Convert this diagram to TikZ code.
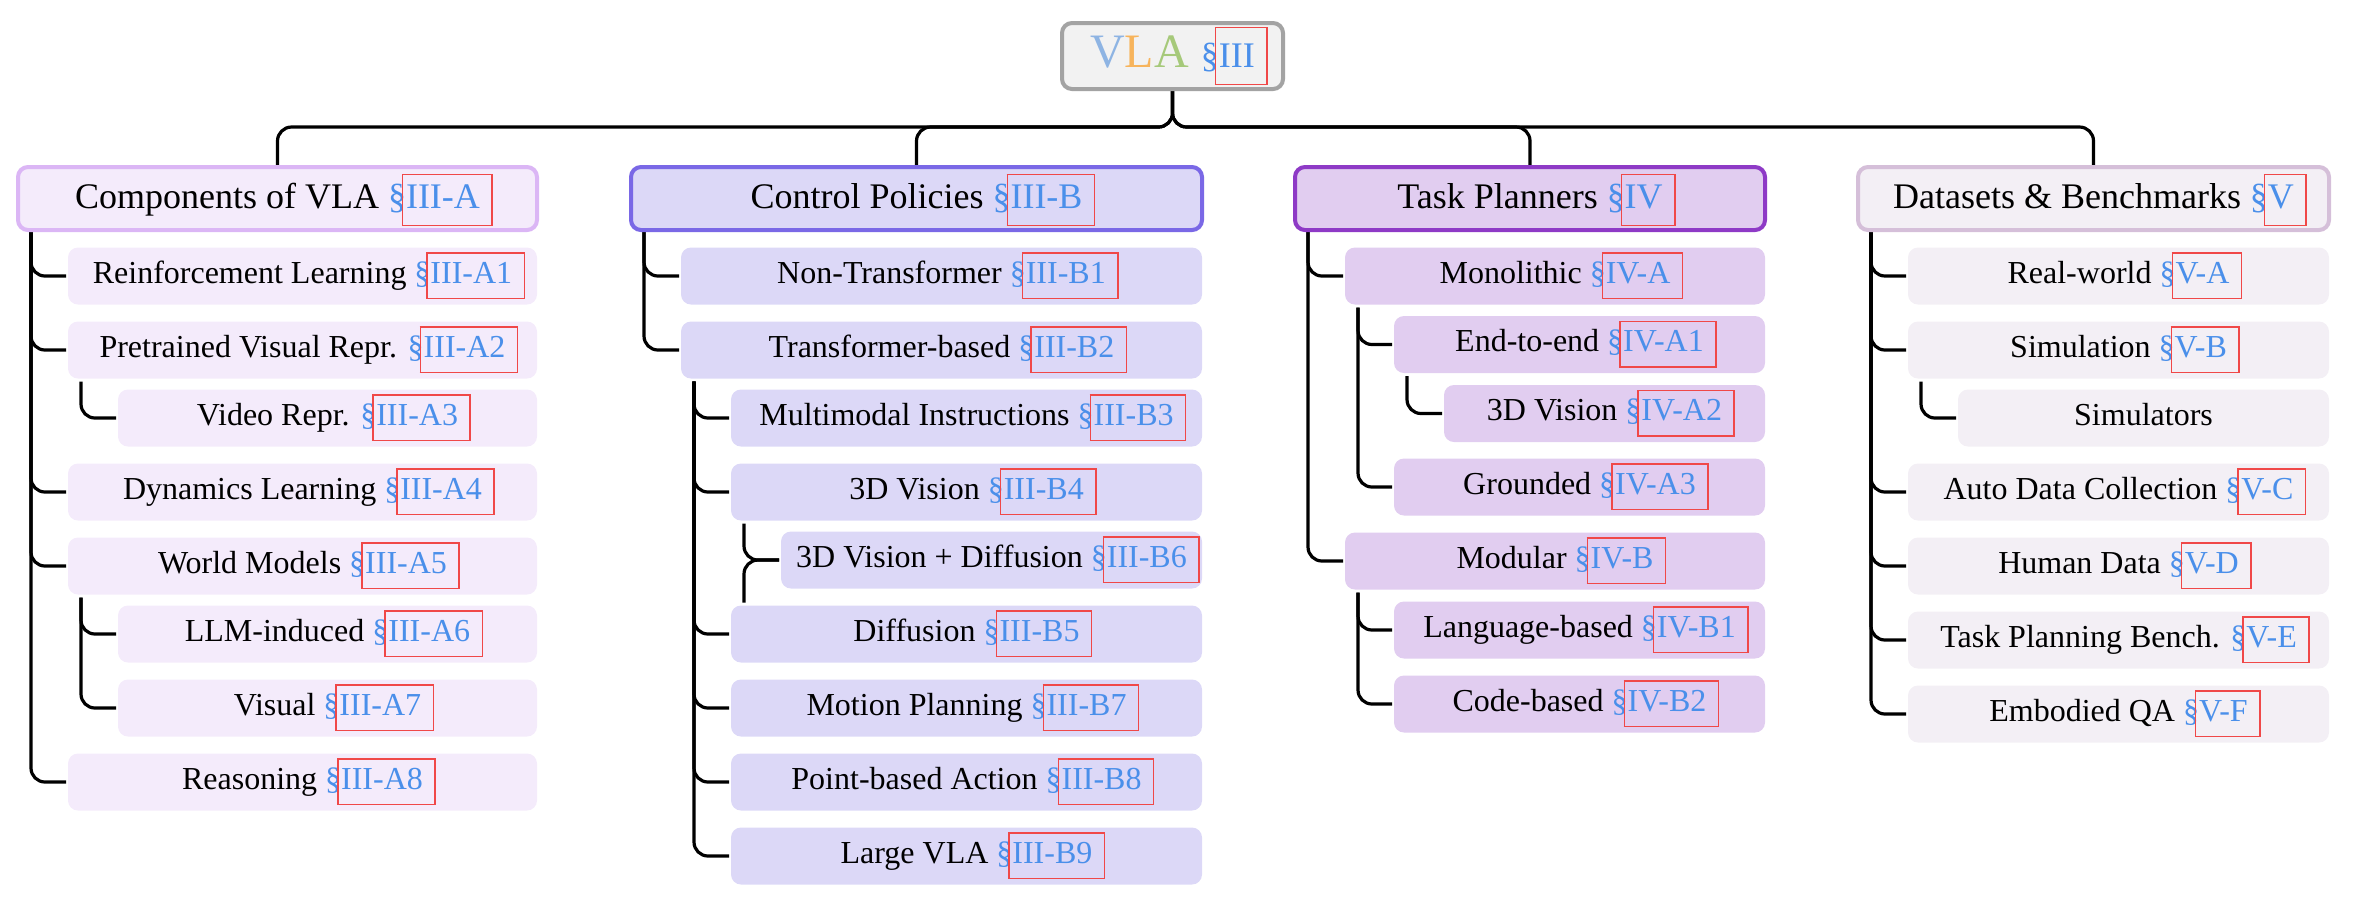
\documentclass[tikz,border=0pt]{standalone}
\usepackage{fontspec}
\setmainfont{Liberation Serif}
\newfontfamily\tnr{Liberation Serif}
\usetikzlibrary{backgrounds}
\definecolor{linkblue}{HTML}{4A8FEA}
\definecolor{linkred}{HTML}{F04848}
\definecolor{rootf}{HTML}{F2F2F2}
\definecolor{rootd}{HTML}{A3A3A3}
\definecolor{vV}{HTML}{8EB4E3}
\definecolor{vL}{HTML}{F7B45C}
\definecolor{vA}{HTML}{A6C97A}
\definecolor{cAf}{HTML}{F4EBFB}
\definecolor{cAd}{HTML}{DBB6F5}
\definecolor{cBf}{HTML}{DCD8F7}
\definecolor{cBd}{HTML}{7A68E6}
\definecolor{cCf}{HTML}{E1CDF0}
\definecolor{cCd}{HTML}{8E3AC6}
\definecolor{cDf}{HTML}{F3EFF5}
\definecolor{cDd}{HTML}{D5BFD9}
\newsavebox\myrefbox
\newcommand\secrefgen[3]{{\color{linkblue}\S}\sbox\myrefbox{\color{linkblue}#3}%
\rlap{\hskip-1pt\color{linkred}\setlength\fboxsep{0pt}\setlength\fboxrule{0.35pt}%
\raisebox{-#1}{\fbox{\rule{0pt}{#2}\rule{\dimexpr\wd\myrefbox+3.5pt\relax}{0pt}}}}%
\usebox\myrefbox}
\newcommand\secref[1]{\secrefgen{0.46em}{1.38em}{#1}}
\tikzset{
 conn/.style={draw=black, line width=0.8pt, rounded corners=3.5pt, shorten >=0.5pt},
 rootbox/.style={draw=rootd, fill=rootf, line width=1pt, rounded corners=2.5pt,
   minimum width=55.25pt, minimum height=16.5pt, inner sep=0pt, outer sep=0pt,
   font=\tnr\fontsize{12}{14}\selectfont, text height=8pt, text depth=2.5pt},
 lone/.style={line width=1pt, rounded corners=2.5pt, minimum height=15.75pt,
   inner sep=0pt, outer sep=0pt, anchor=west, font=\tnr\fontsize{9}{10}\selectfont,
   text height=7pt, text depth=2.1pt},
 ltwo/.style={rounded corners=2.5pt, minimum height=14.25pt, inner sep=0pt,
   outer sep=0pt, anchor=west, font=\tnr\fontsize{8}{9}\selectfont,
   text height=6pt, text depth=2.4pt},
 cA/.style={ltwo, fill=cAf}, cB/.style={ltwo, fill=cBf},
 cC/.style={ltwo, fill=cCf}, cD/.style={ltwo, fill=cDf},
}
\begin{document}
\begin{tikzpicture}[x=0.25pt,y=-0.25pt]
\useasboundingbox (0,0) rectangle (2354,914);
\node[rootbox] (root) at (1172.5,56) {\textcolor{vV}{V}\textcolor{vL}{L}\textcolor{vA}{A} {\fontsize{9}{10}\selectfont\secrefgen{4.25pt}{14pt}{III}}};
\coordinate (bus) at (1172.5,127);
% level 1
\node[lone, draw=cAd, fill=cAf, minimum width=129.75pt] (A) at (18,198.5) {Components of VLA \secref{III-A}};
\node[lone, draw=cBd, fill=cBf, minimum width=142.75pt] (B) at (631,198.5) {Control Policies \secref{III-B}};
\node[lone, draw=cCd, fill=cCf, minimum width=117.5pt] (C) at (1295,198.5) {Task Planners \secref{IV}};
\node[lone, draw=cDd, fill=cDf, minimum width=117.75pt] (D) at (1858,198.5) {Datasets \& Benchmarks \secref{V}};
% column A
\node[cA, minimum width=117.25pt] (A1) at (68,276) {Reinforcement Learning \secref{III-A1}};
\node[cA, minimum width=117.25pt] (A2) at (68,350) {Pretrained Visual Repr. \secref{III-A2}};
\node[cA, minimum width=104.75pt] (A3) at (118,418) {Video Repr. \secref{III-A3}};
\node[cA, minimum width=117.25pt] (A4) at (68,492) {Dynamics Learning \secref{III-A4}};
\node[cA, minimum width=117.25pt] (A5) at (68,566) {World Models \secref{III-A5}};
\node[cA, minimum width=104.75pt] (A6) at (118,634) {LLM-induced \secref{III-A6}};
\node[cA, minimum width=104.75pt] (A7) at (118,708) {Visual \secref{III-A7}};
\node[cA, minimum width=117.25pt] (A8) at (68,782) {Reasoning \secref{III-A8}};
% column B
\node[cB, minimum width=130.25pt] (B1) at (681,276) {Non-Transformer \secref{III-B1}};
\node[cB, minimum width=130.25pt] (B2) at (681,350) {Transformer-based \secref{III-B2}};
\node[cB, minimum width=117.75pt] (B3) at (731,418) {Multimodal Instructions \secref{III-B3}};
\node[cB, minimum width=117.75pt] (B4) at (731,492) {3D Vision \secref{III-B4}};
\node[cB, minimum width=105.25pt] (B6) at (781,560) {3D Vision + Diffusion \secref{III-B6}};
\node[cB, minimum width=117.75pt] (B5) at (731,634) {Diffusion \secref{III-B5}};
\node[cB, minimum width=117.75pt] (B7) at (731,708) {Motion Planning \secref{III-B7}};
\node[cB, minimum width=117.75pt] (B8) at (731,782) {Point-based Action \secref{III-B8}};
\node[cB, minimum width=117.75pt] (B9) at (731,856) {Large VLA \secref{III-B9}};
% column C
\node[cC, minimum width=105pt] (C1) at (1345,276) {Monolithic \secref{IV-A}};
\node[cC, minimum width=92.75pt] (C2) at (1394,344.5) {End-to-end \secref{IV-A1}};
\node[cC, minimum width=80.25pt] (C3) at (1444,413.5) {3D Vision \secref{IV-A2}};
\node[cC, minimum width=92.75pt] (C4) at (1394,487) {Grounded \secref{IV-A3}};
\node[cC, minimum width=105pt] (C5) at (1345,561) {Modular \secref{IV-B}};
\node[cC, minimum width=92.75pt] (C6) at (1394,630) {Language-based \secref{IV-B1}};
\node[cC, minimum width=92.75pt] (C7) at (1394,704) {Code-based \secref{IV-B2}};
% column D
\node[cD, minimum width=105.25pt] (D1) at (1908,276) {Real-world \secref{V-A}};
\node[cD, minimum width=105.25pt] (D2) at (1908,350) {Simulation \secref{V-B}};
\node[cD, minimum width=92.75pt] (D3) at (1958,418) {Simulators};
\node[cD, minimum width=105.25pt] (D4) at (1908,492) {Auto Data Collection \secref{V-C}};
\node[cD, minimum width=105.25pt] (D5) at (1908,566) {Human Data \secref{V-D}};
\node[cD, minimum width=105.25pt] (D6) at (1908,640) {Task Planning Bench. \secref{V-E}};
\node[cD, minimum width=105.25pt] (D7) at (1908,714) {Embodied QA \secref{V-F}};
\begin{scope}[on background layer]
\foreach \c in {A,B,C,D} \draw[conn] (root.south) -- (bus) -| (\c.north);
% trunks from level 1
\foreach \c in {A1,A2,A4,A5,A8} \draw[conn] ([xshift=3.25pt]A.south west) |- (\c.west);
\foreach \c in {B1,B2} \draw[conn] ([xshift=3.25pt]B.south west) |- (\c.west);
\foreach \c in {C1,C5} \draw[conn] ([xshift=3.25pt]C.south west) |- (\c.west);
\foreach \c in {D1,D2,D4,D5,D6,D7} \draw[conn] ([xshift=3.25pt]D.south west) |- (\c.west);
% sub trunks
\draw[conn] ([xshift=3.25pt,yshift=-0.75pt]A2.south west) |- (A3.west);
\foreach \c in {A6,A7} \draw[conn] ([xshift=3.25pt,yshift=-0.75pt]A5.south west) |- (\c.west);
\foreach \c in {B3,B4,B5,B7,B8,B9} \draw[conn] ([xshift=3.25pt,yshift=-0.75pt]B2.south west) |- (\c.west);
\draw[conn] ([xshift=3.25pt,yshift=-0.75pt]B4.south west) |- (B6.west);
\draw[conn] ([xshift=3.25pt,yshift=0.75pt]B5.north west) |- (B6.west);
\foreach \c in {C2,C4} \draw[conn] ([xshift=3.25pt,yshift=-0.75pt]C1.south west) |- (\c.west);
\draw[conn] ([xshift=3.25pt,yshift=-0.75pt]C2.south west) |- (C3.west);
\foreach \c in {C6,C7} \draw[conn] ([xshift=3.25pt,yshift=-0.75pt]C5.south west) |- (\c.west);
\draw[conn] ([xshift=3.25pt,yshift=-0.75pt]D2.south west) |- (D3.west);
\end{scope}
\end{tikzpicture}
\end{document}
